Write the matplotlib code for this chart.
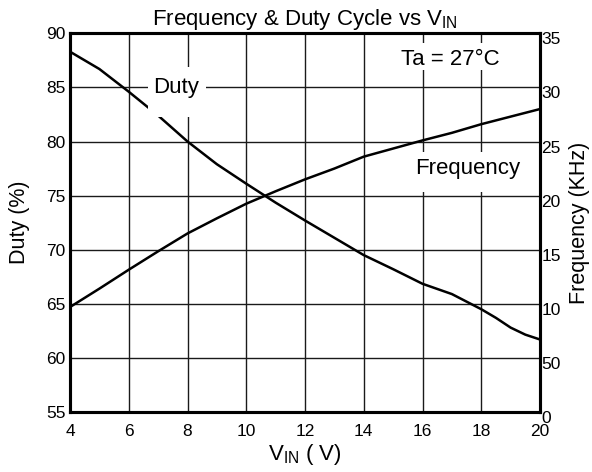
import matplotlib.pyplot as plt
import matplotlib.transforms as mtransforms

plt.rcParams["font.family"] = ["Liberation Sans", "DejaVu Sans"]
plt.rcParams["mathtext.fontset"] = "custom"
plt.rcParams["mathtext.rm"] = "Liberation Sans"
plt.rcParams["mathtext.it"] = "Liberation Sans:italic"

# duty cycle (%) vs input voltage
vin_duty = [4, 5, 6, 7, 8, 9, 10, 11, 12, 13, 14, 15, 16, 17, 18, 18.5, 19, 19.5, 20]
duty = [88.3, 86.7, 84.6, 82.4, 80.0, 77.9, 76.1, 74.35, 72.7, 71.1, 69.5,
        68.2, 66.85, 65.9, 64.5, 63.7, 62.8, 62.15, 61.7]

# frequency (KHz) vs input voltage
vin_freq = [4, 5, 6, 7, 8, 9, 10, 11, 12, 13, 14, 15, 16, 17, 18, 19, 20]
freq = [9.7, 11.4, 13.15, 14.85, 16.5, 17.9, 19.25, 20.4, 21.5, 22.5, 23.6,
        24.35, 25.1, 25.8, 26.6, 27.3, 28.0]

x_ticks = [4, 6, 8, 10, 12, 14, 16, 18, 20]
duty_ticks = [55, 60, 65, 70, 75, 80, 85, 90]
freq_ticks = [0, 5, 10, 15, 20, 25, 30, 35]
freq_tick_labels = ["0", "50", "10", "15", "20", "25", "30", "35"]

fig = plt.figure(figsize=(5.92, 4.72), dpi=100)
ax = fig.add_axes([70 / 592, 60 / 472, 470 / 592, 378.7 / 472])
ax2 = ax.twinx()

ax.set_xlim(4, 20)
ax.set_ylim(55, 90)
ax2.set_ylim(0, 35)
ax.set_xticks(x_ticks)
ax.set_yticks(duty_ticks)
ax2.set_yticks(freq_ticks)
ax2.set_yticklabels(freq_tick_labels)

ax.grid(True, color="#1a1a1a", linewidth=1.0)
ax.set_axisbelow(True)
ax.tick_params(length=0, labelsize=12.5, pad=3)
ax.tick_params(axis="x", pad=9)
ax2.tick_params(length=0, labelsize=12.5, pad=1)
shift = mtransforms.ScaledTranslation(0, -5 / 100, fig.dpi_scale_trans)
for lab in ax2.get_yticklabels():
    lab.set_transform(lab.get_transform() + shift)

for a in (ax, ax2):
    for sp in a.spines.values():
        sp.set_linewidth(2.2)
        sp.set_color("black")

ax.plot(vin_duty, duty, color="black", linewidth=1.8, zorder=2)
ax2.plot(vin_freq, freq, color="black", linewidth=1.8, zorder=2)

# white boxes behind the in-plot labels
ax.add_patch(plt.Rectangle((6.65, 82.25), 1.98, 4.65, facecolor="white",
                           edgecolor="none", zorder=3))
ax.add_patch(plt.Rectangle((15.73, 75.3), 3.74, 3.7, facecolor="white",
                           edgecolor="none", zorder=3))
ax.add_patch(plt.Rectangle((15.2, 86.6), 3.6, 2.5, facecolor="white",
                           edgecolor="none", zorder=3))

ax.text(7.6, 85, "Duty", fontsize=16, ha="center", va="center", zorder=4)
ax.text(17.55, 77.5, "Frequency", fontsize=16, ha="center", va="center", zorder=4)
ax.text(16.95, 87.6, "Ta = 27\u00b0C", fontsize=16, ha="center", va="center", zorder=4)

ax.set_title("Frequency & Duty Cycle vs V$_{\\mathrm{IN}}$", fontsize=16, pad=6)
ax.set_xlabel("V$_{\\mathrm{IN}}$ ( V)", fontsize=16, labelpad=2)
ax.set_ylabel("Duty (%)", fontsize=15.5, labelpad=12)
ax2.set_ylabel("Frequency (KHz)", fontsize=15.5, labelpad=6)

fig.savefig("out.png", dpi=100)
